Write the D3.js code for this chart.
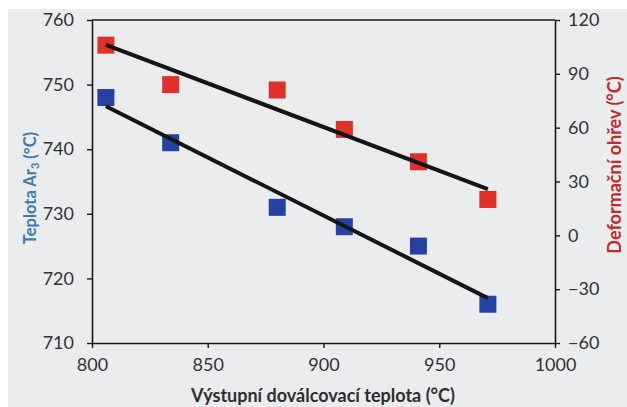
<!DOCTYPE html>
<html>
<head>
<meta charset="utf-8">
<script src="https://cdn.jsdelivr.net/npm/d3@7"></script>
<style>
  body { margin: 0; background: #fff; }
  svg text { font-family: Lato, "Open Sans", sans-serif; }
</style>
</head>
<body>
<div id="chart"></div>
<script>
// data
var exitTemp = [806, 834, 880, 909, 941, 971];      // Výstupní doválcovací teplota (°C)
var ar3Temp = [748, 741, 731, 728, 725, 716];       // Teplota Ar3 (°C), left axis
var deformHeat = [106, 84, 81, 59, 41, 20];         // Deformační ohřev (°C), right axis

var xTicks = [800, 850, 900, 950, 1000];
var yLeftTicks = [710, 720, 730, 740, 750, 760];
var yRightTicks = [-60, -30, 0, 30, 60, 90, 120];

var W = 627, H = 407;
var margin = { top: 20, right: 72, bottom: 64, left: 92 };
var width = W - margin.left - margin.right;
var height = H - margin.top - margin.bottom;

var svg = d3.select('#chart').append('svg')
    .attr('width', W)
    .attr('height', H);

// light grey backdrop like the scanned figure
svg.append('rect')
    .attr('x', 8).attr('y', 9)
    .attr('width', W - 8).attr('height', H - 9)
    .attr('fill', '#eaeced');

var g = svg.append('g')
    .attr('transform', 'translate(' + margin.left + ',' + margin.top + ')');

var x = d3.scaleLinear().domain([800, 1000]).range([0, width]);
var yL = d3.scaleLinear().domain([710, 760]).range([height, 0]);
var yR = d3.scaleLinear().domain([-60, 120]).range([height, 0]);

// least squares trend line over the points
function trend(xs, ys) {
    var mx = d3.mean(xs), my = d3.mean(ys);
    var num = d3.sum(xs, function (v, i) { return (v - mx) * (ys[i] - my); });
    var den = d3.sum(xs, function (v) { return (v - mx) * (v - mx); });
    var b = num / den, a = my - b * mx;
    var x0 = d3.min(xs), x1 = d3.max(xs);
    return [[x0, a + b * x0], [x1, a + b * x1]];
}

// Axes
var axisStyle = function (sel) {
    sel.select('.domain').attr('stroke', '#1a1a1a').attr('stroke-width', 1.6);
    sel.selectAll('.tick line').attr('stroke', '#1a1a1a').attr('stroke-width', 1.4);
    sel.selectAll('.tick text')
        .attr('fill', '#333')
        .style('font-size', '18px');
};

g.append('g')
    .attr('transform', 'translate(0,' + height + ')')
    .call(d3.axisBottom(x).tickValues(xTicks).tickFormat(d3.format('d'))
        .tickSize(5).tickSizeOuter(0).tickPadding(10))
    .call(axisStyle);

g.append('g')
    .call(d3.axisLeft(yL).tickValues(yLeftTicks).tickSize(5).tickSizeOuter(0).tickPadding(13))
    .call(axisStyle);

g.append('g')
    .attr('transform', 'translate(' + width + ',0)')
    .call(d3.axisRight(yR).tickValues(yRightTicks).tickSize(5).tickSizeOuter(0).tickPadding(8))
    .call(axisStyle);

// top border
g.append('line')
    .attr('x1', 0).attr('x2', width)
    .attr('y1', 0).attr('y2', 0)
    .attr('stroke', '#1a1a1a').attr('stroke-width', 1.6);

// markers
var size = 17;
var blue = exitTemp.map(function (v, i) { return [v, ar3Temp[i]]; });
var red = exitTemp.map(function (v, i) { return [v, deformHeat[i]]; });

g.selectAll('.m-blue').data(blue).enter().append('rect')
    .attr('class', 'm-blue')
    .attr('x', function (d) { return x(d[0]) - size / 2; })
    .attr('y', function (d) { return yL(d[1]) - size / 2; })
    .attr('width', size).attr('height', size)
    .attr('fill', '#2542a0');

g.selectAll('.m-red').data(red).enter().append('rect')
    .attr('class', 'm-red')
    .attr('x', function (d) { return x(d[0]) - size / 2; })
    .attr('y', function (d) { return yR(d[1]) - size / 2; })
    .attr('width', size).attr('height', size)
    .attr('fill', '#e0302a');

// trend lines
g.append('path')
    .datum(trend(exitTemp, ar3Temp))
    .attr('fill', 'none').attr('stroke', '#151515').attr('stroke-width', 4)
    .attr('d', d3.line().x(function (d) { return x(d[0]); }).y(function (d) { return yL(d[1]); }));

g.append('path')
    .datum(trend(exitTemp, deformHeat))
    .attr('fill', 'none').attr('stroke', '#151515').attr('stroke-width', 4)
    .attr('d', d3.line().x(function (d) { return x(d[0]); }).y(function (d) { return yR(d[1]); }));

// axis titles
var lt = svg.append('text')
    .attr('transform', 'translate(36,' + 188 + ') rotate(-90)')
    .attr('text-anchor', 'middle')
    .attr('fill', '#3a7cb4')
    .style('font-size', '16.5px').style('font-weight', 'bold');
lt.append('tspan').text('Teplota Ar');
lt.append('tspan').text('3').style('font-size', '11px').attr('dy', 3);
lt.append('tspan').text(' (°C)').attr('dy', -3);

svg.append('text')
    .attr('transform', 'translate(621,' + 165 + ') rotate(-90)')
    .attr('text-anchor', 'middle')
    .attr('fill', '#c22a2a')
    .style('font-size', '18px').style('font-weight', 'bold')
    .text('Deformační ohřev (°C)');

svg.append('text')
    .attr('x', 323).attr('y', 402)
    .attr('text-anchor', 'middle')
    .attr('fill', '#2e2e2e')
    .style('font-size', '18px').style('font-weight', 'bold')
    .text('Výstupní doválcovací teplota (°C)');
</script>
</body>
</html>
